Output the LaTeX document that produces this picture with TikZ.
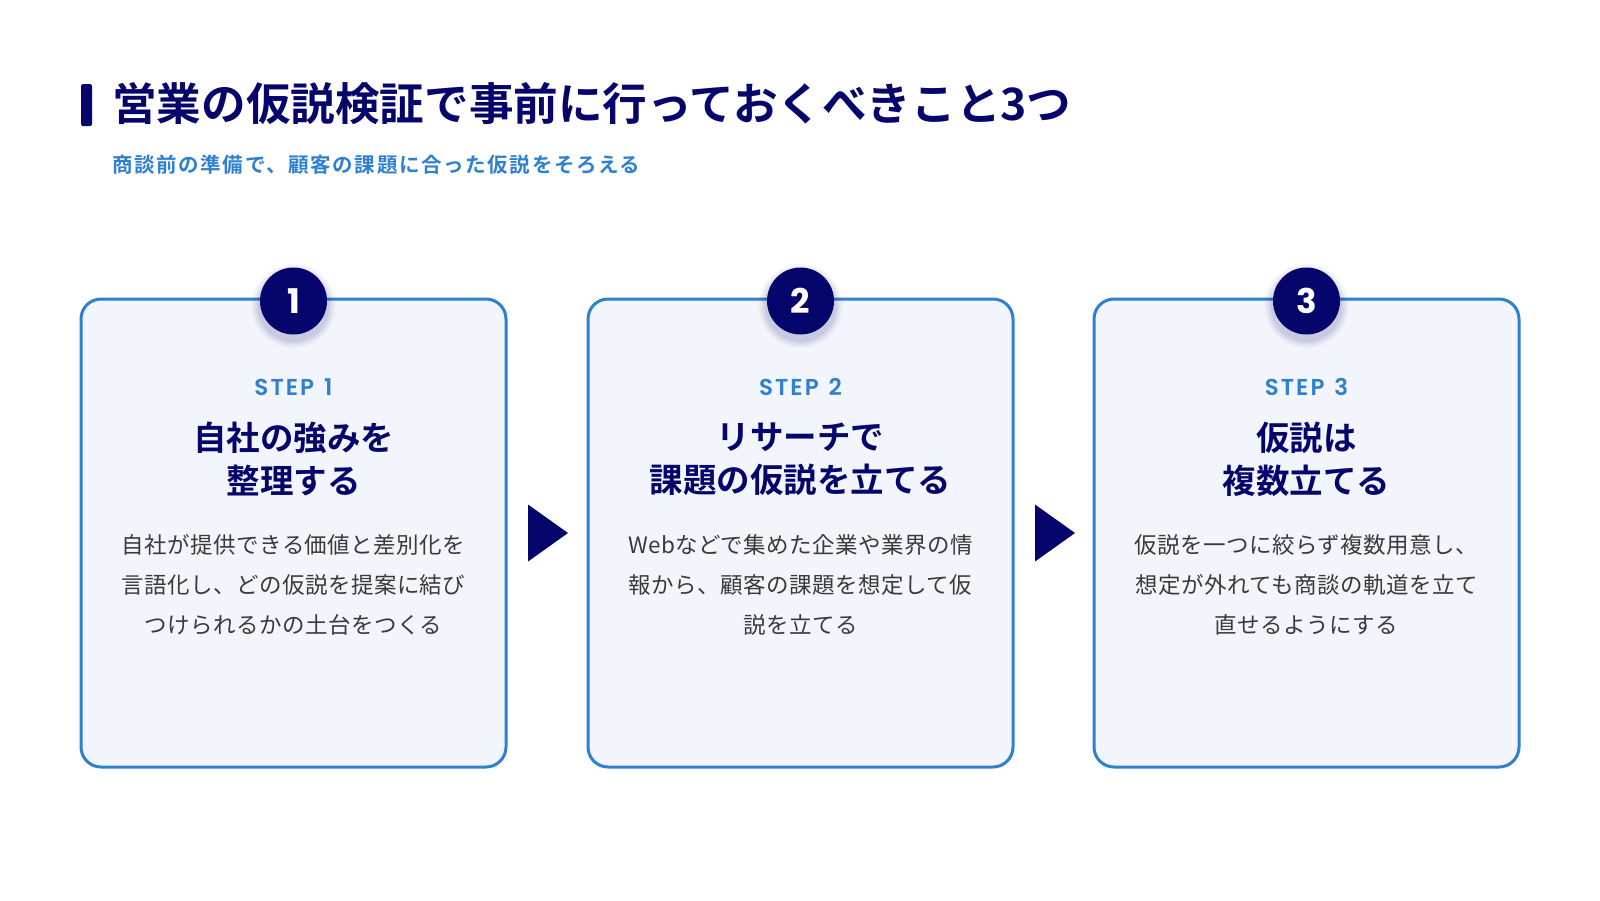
\documentclass[tikz,border=0pt]{standalone}
\usepackage{fontspec}
\setmainfont{Noto Sans CJK JP}
\newfontfamily\jpb{Noto Sans CJK JP Bold}
\newfontfamily\jpbs[LetterSpace=8]{Noto Sans CJK JP Bold}
\newfontfamily\jpr[LetterSpace=2]{Noto Sans CJK JP}
\newfontfamily\stepf[LetterSpace=9]{Poppins SemiBold}
\newfontfamily\numf{Poppins Bold}
\definecolor{navy}{HTML}{05056B}
\definecolor{accent}{HTML}{2F80D0}
\definecolor{boxfill}{HTML}{F2F5FB}
\definecolor{bodytxt}{HTML}{3A3A3A}
\tikzset{
  stepcard/.style={draw=accent, line width=3pt, fill=boxfill, rounded corners=20pt},
  numcircle/.style={circle, fill=navy, minimum size=67pt, inner sep=0pt, text=white, font=\numf\fontsize{34}{34}\selectfont},
  steplabel/.style={text=accent, font=\stepf\fontsize{23}{23}\selectfont},
  cardtitle/.style={text=navy, align=center, font=\jpb\fontsize{33.5}{43}\selectfont},
  cardbody/.style={text=bodytxt, align=center, font=\jpr\fontsize{22.5}{40}\selectfont},
  flowarrow/.style={fill=navy, draw=none},
}
\begin{document}
\begin{tikzpicture}[x=1pt, y=-1pt]
\useasboundingbox (0,0) rectangle (1600,900);
\fill[white] (0,0) rectangle (1600,900);
% header
\node[fill=navy, minimum width=11pt, minimum height=42pt, inner sep=0pt, rounded corners=1.5pt] (bar) at (86.5,105) {};
\node[anchor=west, inner sep=0pt, text=navy, font=\jpb\fontsize{44.6}{44.6}\selectfont] (title) at (112,104) {営業の仮説検証で事前に行っておくべきこと3つ};
\node[anchor=west, inner sep=0pt, text=accent, font=\jpbs\fontsize{20.5}{20.5}\selectfont] (subtitle) at (112,165) {商談前の準備で、顧客の課題に合った仮説をそろえる};
% cards
\foreach \i/\x in {1/81,2/588,3/1094}{
  \draw[stepcard] (\x,299) rectangle ++(425,468);
}
% shadows for circles
\foreach \cx in {293.5,800.5,1306.5}{
  \foreach \r/\op in {42/0.03,40/0.04,38/0.05,36/0.06}{
    \fill[navy, opacity=\op] (\cx,306) circle[radius=\r pt];
  }
}
\node[numcircle] (n1) at (293.5,301) {1};
\node[numcircle] (n2) at (800.5,301) {2};
\node[numcircle] (n3) at (1306.5,301) {3};
\node[steplabel] (s1) at (293.5,387) {STEP\hspace{10pt}1};
\node[steplabel] (s2) at (800.5,387) {STEP\hspace{10pt}2};
\node[steplabel] (s3) at (1306.5,387) {STEP\hspace{10pt}3};
\node[cardtitle] (t1) at (293.5,459) {自社の強みを\\整理する};
\node[cardtitle] (t2) at (800.5,459) {リサーチで\\課題の仮説を立てる};
\node[cardtitle] (t3) at (1306.5,459) {仮説は\\複数立てる};
\node[cardbody] (b1) at (293.5,585) {自社が提供できる価値と差別化を\\言語化し、どの仮説を提案に結び\\つけられるかの土台をつくる};
\node[cardbody] (b2) at (800.5,585) {Webなどで集めた企業や業界の情\\報から、顧客の課題を想定して仮\\説を立てる};
\node[cardbody] (b3) at (1306.5,585) {仮説を一つに絞らず複数用意し、\\想定が外れても商談の軌道を立て\\直せるようにする};
% arrows
\coordinate (a1) at (548,533);
\coordinate (a2) at (1055,533);
\fill[flowarrow] ([xshift=-20pt,yshift=-28.5pt]a1) -- ([xshift=20pt]a1) -- ([xshift=-20pt,yshift=28.5pt]a1) -- cycle;
\fill[flowarrow] ([xshift=-20pt,yshift=-28.5pt]a2) -- ([xshift=20pt]a2) -- ([xshift=-20pt,yshift=28.5pt]a2) -- cycle;
\end{tikzpicture}
\end{document}
